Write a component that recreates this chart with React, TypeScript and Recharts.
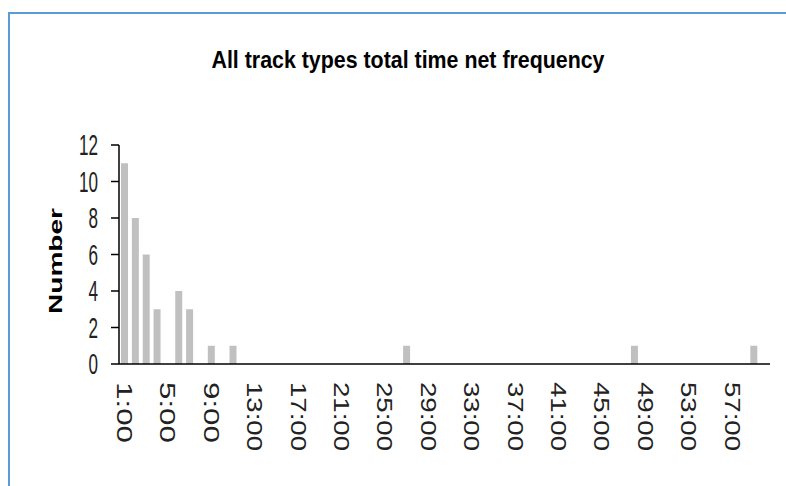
import React from 'react';
import { BarChart, Bar, XAxis, YAxis } from 'recharts';

// minute bins 1:00 .. 60:00
const minuteLabels = [
  '1:00', '2:00', '3:00', '4:00', '5:00', '6:00', '7:00', '8:00', '9:00', '10:00',
  '11:00', '12:00', '13:00', '14:00', '15:00', '16:00', '17:00', '18:00', '19:00', '20:00',
  '21:00', '22:00', '23:00', '24:00', '25:00', '26:00', '27:00', '28:00', '29:00', '30:00',
  '31:00', '32:00', '33:00', '34:00', '35:00', '36:00', '37:00', '38:00', '39:00', '40:00',
  '41:00', '42:00', '43:00', '44:00', '45:00', '46:00', '47:00', '48:00', '49:00', '50:00',
  '51:00', '52:00', '53:00', '54:00', '55:00', '56:00', '57:00', '58:00', '59:00', '60:00',
];

const counts = [
  11, 8, 6, 3, 0, 4, 3, 0, 1, 0,
  1, 0, 0, 0, 0, 0, 0, 0, 0, 0,
  0, 0, 0, 0, 0, 0, 1, 0, 0, 0,
  0, 0, 0, 0, 0, 0, 0, 0, 0, 0,
  0, 0, 0, 0, 0, 0, 0, 1, 0, 0,
  0, 0, 0, 0, 0, 0, 0, 0, 1, 0,
];

const yTicks = [0, 2, 4, 6, 8, 10, 12];

const data = minuteLabels.map((m, i) => ({ minute: m, number: counts[i] }));

const FONT = '"Liberation Sans", Arial, sans-serif';

const XTick = (props: any) => {
  const { x, y, payload } = props;
  const label = String(payload.value);
  return (
    <text
      x={x}
      y={y}
      transform={`rotate(90, ${x}, ${y})`}
      fontFamily={FONT}
      fontSize={22}
      fill="#222"
      textAnchor="start"
      dominantBaseline="central"
      textLength={label.length === 4 ? 61 : 69}
      lengthAdjust="spacingAndGlyphs"
    >
      {label}
    </text>
  );
};

const YTick = (props: any) => {
  const { x, y, payload } = props;
  const label = String(payload.value);
  return (
    <text
      x={x}
      y={y}
      fontFamily={FONT}
      fontSize={29}
      fill="#222"
      textAnchor="end"
      dominantBaseline="central"
      textLength={label.length * 9.5}
      lengthAdjust="spacingAndGlyphs"
    >
      {label}
    </text>
  );
};

export default function App() {
  return (
    <div style={{ position: 'absolute', left: 0, top: 0, width: 786, height: 486, background: '#fff' }}>
      {/* blue frame (top and left edges only visible) */}
      <div
        style={{
          position: 'absolute',
          left: 8,
          top: 12,
          width: 778,
          height: 474,
          borderTop: '2px solid #5b9bd5',
          borderLeft: '2px solid #5b9bd5',
          boxSizing: 'border-box',
        }}
      />
      <div style={{ position: 'absolute', left: 0, top: 0 }}>
        <BarChart
          width={786}
          height={486}
          data={data}
          margin={{ top: 145, right: 16, left: 59, bottom: 22 }}
          barSize={7}
        >
          <XAxis
            dataKey="minute"
            interval={3}
            tickLine={false}
            tickSize={0}
            tickMargin={18}
            height={100}
            axisLine={{ stroke: '#000', strokeWidth: 1.5 }}
            tick={<XTick />}
          />
          <YAxis
            domain={[0, 12]}
            ticks={yTicks}
            width={60}
            tickSize={8}
            tickMargin={13}
            axisLine={{ stroke: '#000', strokeWidth: 1.5 }}
            tickLine={{ stroke: '#000', strokeWidth: 1.5 }}
            tick={<YTick />}
          />
          <Bar dataKey="number" fill="#c0c0c0" isAnimationActive={false} />
        </BarChart>
      </div>
      <svg
        width={786}
        height={486}
        style={{ position: 'absolute', left: 0, top: 0, pointerEvents: 'none' }}
      >
        <text
          x={408}
          y={68}
          textAnchor="middle"
          fontFamily={FONT}
          fontWeight="bold"
          fontSize={24}
          fill="#000"
          textLength={393}
          lengthAdjust="spacingAndGlyphs"
        >
          All track types total time net frequency
        </text>
        <text
          x={62}
          y={261}
          transform="rotate(-90, 62, 261)"
          textAnchor="middle"
          fontFamily={FONT}
          fontWeight="bold"
          fontSize={18}
          fill="#000"
          textLength={106}
          lengthAdjust="spacingAndGlyphs"
        >
          Number
        </text>
      </svg>
    </div>
  );
}
